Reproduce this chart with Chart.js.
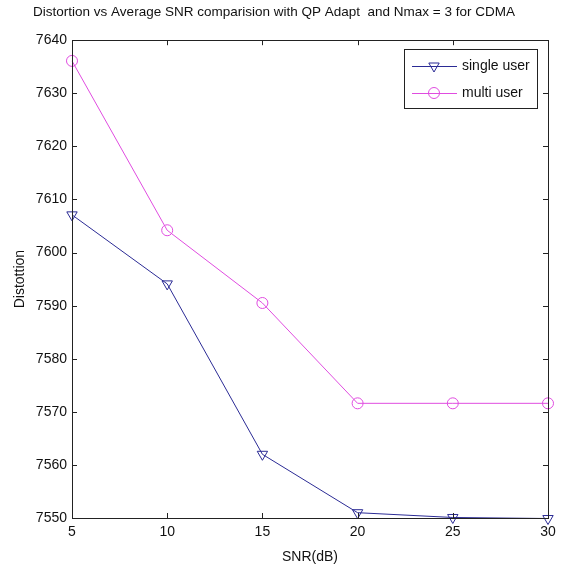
<!DOCTYPE html>
<html>
<head>
<meta charset="utf-8">
<script src="https://cdn.jsdelivr.net/npm/chart.js@4/dist/chart.umd.min.js"></script>
<style>
  html, body { margin: 0; padding: 0; background: #fff; }
  #wrap { width: 574px; height: 571px; }
</style>
</head>
<body>
<div id="wrap"><canvas id="grafico"></canvas></div>
<script>
const snr = [5, 10, 15, 20, 25, 30];
const singleUser = [7607.1, 7594.1, 7562.0, 7551.0, 7550.1, 7549.9];
const multiUser = [7636.1, 7604.2, 7590.5, 7571.6, 7571.6, 7571.6];
const xTicks = [5, 10, 15, 20, 25, 30];
const yTicks = [7550, 7560, 7570, 7580, 7590, 7600, 7610, 7620, 7630, 7640];

const fuente = "'Liberation Sans', Arial, sans-serif";
const azul = '#2b2b95';
const magenta = '#e04ce0';

// caja de ejes estilo matlab con marcas hacia dentro
const cajaEjes = {
    id: 'cajaEjes',
    afterDatasetsDraw(chart) {
        const {ctx, chartArea: a, scales} = chart;
        ctx.save();
        ctx.strokeStyle = '#222';
        ctx.lineWidth = 1;
        ctx.strokeRect(Math.round(a.left) + 0.5, Math.round(a.top) + 0.5,
            Math.round(a.right - a.left), Math.round(a.bottom - a.top));
        ctx.beginPath();
        xTicks.forEach(v => {
            const x = Math.round(scales.x.getPixelForValue(v)) + 0.5;
            ctx.moveTo(x, a.bottom); ctx.lineTo(x, a.bottom - 5);
            ctx.moveTo(x, a.top); ctx.lineTo(x, a.top + 5);
        });
        yTicks.forEach(v => {
            const y = Math.round(scales.y.getPixelForValue(v)) + 0.5;
            ctx.moveTo(a.left, y); ctx.lineTo(a.left + 5, y);
            ctx.moveTo(a.right, y); ctx.lineTo(a.right - 5, y);
        });
        ctx.stroke();
        ctx.restore();
    },
    afterDraw(chart) {
        // leyenda
        const {ctx} = chart;
        const bx = 404, by = 49, bw = 133, bh = 59;
        ctx.save();
        ctx.fillStyle = '#fff';
        ctx.fillRect(bx, by, bw, bh);
        ctx.strokeStyle = '#222';
        ctx.lineWidth = 1;
        ctx.strokeRect(bx + 0.5, by + 0.5, bw, bh);
        chart.data.datasets.forEach((ds, i) => {
            const y = 66 + i * 27;
            ctx.strokeStyle = ds.borderColor;
            ctx.lineWidth = 1;
            ctx.beginPath();
            ctx.moveTo(412, y + 0.5);
            ctx.lineTo(457, y + 0.5);
            ctx.stroke();
            ctx.fillStyle = 'rgba(0,0,0,0)';
            Chart.helpers.drawPoint(ctx, {
                pointStyle: ds.pointStyle,
                rotation: ds.pointRotation || 0,
                radius: ds.pointRadius,
                borderWidth: 1
            }, 434, y);
            ctx.fillStyle = '#111';
            ctx.font = '14px ' + fuente;
            ctx.textBaseline = 'middle';
            ctx.fillText(ds.label, 462, y);
        });
        ctx.restore();
    }
};

const ctx = document.getElementById('grafico').getContext('2d');

new Chart(ctx, {
    type: 'line',
    data: {
        datasets: [{
            label: 'single user',
            data: snr.map((x, i) => ({x: x, y: singleUser[i]})),
            borderColor: azul,
            backgroundColor: 'transparent',
            borderWidth: 1,
            pointStyle: 'triangle',
            pointRotation: 180,
            pointRadius: 6,
            pointBorderWidth: 1,
            pointBackgroundColor: 'transparent',
            clip: false
        }, {
            label: 'multi user',
            data: snr.map((x, i) => ({x: x, y: multiUser[i]})),
            borderColor: magenta,
            backgroundColor: 'transparent',
            borderWidth: 1,
            pointStyle: 'circle',
            pointRadius: 5.5,
            pointBorderWidth: 1,
            pointBackgroundColor: 'transparent',
            clip: false
        }]
    },
    options: {
        responsive: true,
        maintainAspectRatio: false,
        animation: false,
        layout: {
            padding: { left: 0, right: 26, top: 0, bottom: 0 }
        },
        plugins: {
            legend: { display: false },
            tooltip: { enabled: false },
            title: {
                display: true,
                text: 'Distortion vs Average SNR comparision with QP Adapt  and Nmax = 3 for CDMA',
                color: '#111',
                font: { family: fuente, size: 13.5, weight: 'normal' },
                padding: { top: 4, bottom: 20 }
            }
        },
        scales: {
            x: {
                type: 'linear',
                min: 5,
                max: 30,
                afterBuildTicks: s => { s.ticks = xTicks.map(v => ({value: v})); },
                afterFit: s => { s.height = 53; },
                grid: { display: false, drawTicks: false },
                border: { display: false },
                ticks: {
                    color: '#111',
                    padding: 6,
                    maxRotation: 0,
                    callback: v => String(v),
                    font: { family: fuente, size: 14 }
                },
                title: {
                    display: true,
                    text: 'SNR(dB)',
                    color: '#111',
                    padding: { top: 0, bottom: 5 },
                    font: { family: fuente, size: 14 }
                }
            },
            y: {
                min: 7550,
                max: 7640,
                afterBuildTicks: s => { s.ticks = yTicks.map(v => ({value: v})); },
                afterFit: s => { s.width = 72; },
                grid: { display: false, drawTicks: false },
                border: { display: false },
                ticks: {
                    color: '#111',
                    padding: 5,
                    callback: v => String(v),
                    font: { family: fuente, size: 14 }
                },
                title: {
                    display: true,
                    text: 'Distottion',
                    color: '#111',
                    padding: { top: 12, bottom: 0 },
                    font: { family: fuente, size: 14 }
                }
            }
        }
    },
    plugins: [cajaEjes]
});
</script>
</body>
</html>
